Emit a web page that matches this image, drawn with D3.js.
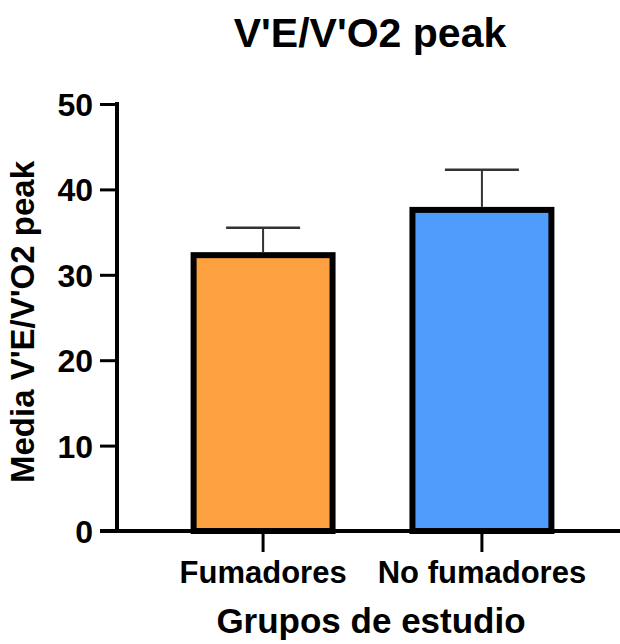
<!DOCTYPE html>
<html>
<head>
<meta charset="utf-8">
<script src="https://cdn.jsdelivr.net/npm/d3@7"></script>
<style>
  body { margin: 0; background: #fff; }
  text { font-family: 'Liberation Sans', Arial, Helvetica, sans-serif; font-weight: bold; fill: #000; }
</style>
</head>
<body>
<div class="bar_chart"></div>
<script>
const groups = ['Fumadores', 'No fumadores']
const means = [32.3, 37.6]
const sds = [3.2, 4.7]
const barColors = ['#FDA03F', '#4F9CFC']
const yTicks = [0, 10, 20, 30, 40, 50]

const width = 620
const height = 644
const x0 = 117
const yBottom = 531
const yTop = 104

const svg = d3.select('.bar_chart').append('svg')
  .attr('width', width)
  .attr('height', height)

const x = d3.scaleBand().domain(groups)
  .range([x0, 628])
  .paddingInner(0.365)
  .paddingOuter(0.35)

const y = d3.scaleLinear().domain([0, 50]).range([yBottom, yTop])

const data = groups.map((g, i) => {
  return {group: g, mean: means[i], sd: sds[i], color: barColors[i]}
})

// bars
svg.selectAll('.bar')
  .data(data)
  .enter().append('rect')
  .attr('class', 'bar')
  .attr('x', (d) => x(d.group))
  .attr('y', (d) => y(d.mean))
  .attr('width', x.bandwidth())
  .attr('height', (d) => y(0) - y(d.mean))
  .style('fill', (d) => d.color)
  .style('stroke', '#000')
  .style('stroke-width', 6)

// error bars (upper only)
const err = svg.selectAll('.err')
  .data(data)
  .enter().append('g')
  .attr('class', 'err')

err.append('line')
  .attr('x1', (d) => x(d.group) + x.bandwidth() / 2)
  .attr('x2', (d) => x(d.group) + x.bandwidth() / 2)
  .attr('y1', (d) => y(d.mean) - 3)
  .attr('y2', (d) => y(d.mean + d.sd))
  .style('stroke', '#333')
  .style('stroke-width', 2)

err.append('line')
  .attr('x1', (d) => x(d.group) + x.bandwidth() / 2 - 37)
  .attr('x2', (d) => x(d.group) + x.bandwidth() / 2 + 37)
  .attr('y1', (d) => y(d.mean + d.sd))
  .attr('y2', (d) => y(d.mean + d.sd))
  .style('stroke', '#333')
  .style('stroke-width', 2.5)

// y axis
const yAxis = svg.append('g')
  .attr('transform', 'translate(' + x0 + ',0)')
  .call(d3.axisLeft(y).tickValues(yTicks).tickSize(17).tickPadding(7).tickSizeOuter(0))
yAxis.select('.domain').style('stroke', '#000').style('stroke-width', 4)
  .attr('d', 'M0,' + (yBottom + 2) + 'V' + (yTop - 2))
yAxis.selectAll('.tick line').style('stroke', '#000').style('stroke-width', 3)
yAxis.selectAll('.tick text')
  .style('font-size', '32px')
  .attr('dy', '0.36em')

// x axis
const xAxis = svg.append('g')
  .attr('transform', 'translate(0,' + yBottom + ')')
  .call(d3.axisBottom(x).tickSize(21).tickPadding(0).tickSizeOuter(0))
xAxis.select('.domain').style('stroke', '#000').style('stroke-width', 4)
  .attr('d', 'M' + (x0 - 17) + ',0H' + width)
xAxis.selectAll('.tick line').style('stroke', '#000').style('stroke-width', 3)
xAxis.selectAll('.tick text')
  .style('font-size', '31px')
  .attr('y', 52)
  .attr('dy', 0)

// title
svg.append('text')
  .attr('x', 370)
  .attr('y', 47)
  .attr('text-anchor', 'middle')
  .style('font-size', '41px')
  .text("V'E/V'O2 peak")

// axis titles
svg.append('text')
  .attr('transform', 'translate(34,322) rotate(-90)')
  .attr('text-anchor', 'middle')
  .style('font-size', '33px')
  .text("Media V'E/V'O2 peak")

svg.append('text')
  .attr('x', 371)
  .attr('y', 633)
  .attr('text-anchor', 'middle')
  .style('font-size', '35px')
  .text('Grupos de estudio')
</script>
</body>
</html>
